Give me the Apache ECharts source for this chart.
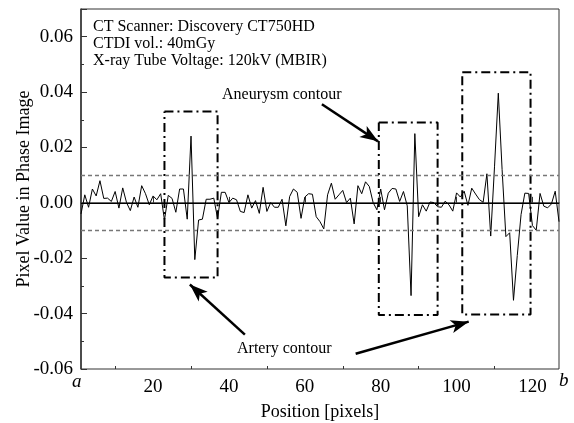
<!DOCTYPE html>
<html>
<head>
<meta charset="utf-8">
<script src="https://cdn.jsdelivr.net/npm/echarts@6/dist/echarts.min.js"></script>
<style>
html, body { margin: 0; padding: 0; background: #fff; }
#chart { width: 574px; height: 423px; }
</style>
</head>
<body>
<div id="chart"></div>
<script>
// pixel value profile, position 1..127
var pixelValues = [
  -0.004, 0.0029, -0.0016, 0.005, 0.0025, 0.008, 0.0016, 0.0017, 0.0005, 0.0041,
  -0.0019, 0.0054, 0.0001, -0.0028, 0.0021, -0.0016, 0.0062, 0.0033, -0.0007, 0.0025,
  0.0011, 0.0033, -0.0062, 0.0027, 0.0016, -0.0034, 0.005, 0.005, -0.0059, 0.0241,
  -0.0205, -0.0062, -0.0059, 0.0013, 0.0013, 0.0017, -0.0056, 0.0038, 0.0038, 0.0001,
  0.0017, 0.0011, -0.0031, -0.0035, 0.0029, -0.0019, 0.0008, -0.0038, 0.0056, -0.0031,
  0.0001, -0.0016, -0.0016, 0.0013, -0.0083, 0.0023, 0.005, 0.0038, -0.0056, 0.0021,
  0.0033, 0.0031, -0.005, -0.0068, -0.0094, 0.0029, 0.0071, 0.0013, 0.0029, 0.0045,
  0.0001, 0.0017, -0.0076, 0.0062, 0.0033, 0.0076, 0.0059, 0.0001, -0.0025, 0.005,
  -0.0025, 0.0035, 0.0052, 0.005, 0.0005, 0.0041, -0.0011, -0.0335, 0.025, -0.005,
  -0.0007, -0.003, 0.0003, 0.0001, -0.0014, -0.0016, 0.0006, -0.0007, -0.003, 0.0036,
  0.0021, 0.0042, -0.0009, 0.0053, 0.0032, 0.0012, 0.0002, 0.0105, -0.012, 0.013,
  0.0396, 0.012, -0.0122, -0.0108, -0.0352, -0.019, -0.0042, 0.0035, 0.0034, -0.0082,
  -0.0099, 0.0034, -0.0012, -0.0018, -0.0004, 0.0042, -0.0068
];
var xMajorTicks = [20, 40, 60, 80, 100, 120];
var xMinorTicks = [10, 30, 50, 70, 90, 110];
var threshold = 0.011;

// contour boxes: [xLeft, xRight, yBottom, yTop]
var arteryBox1 = [23, 37, -0.027, 0.033];
var aneurysmBox = [79.5, 95, -0.0405, 0.029];
var arteryBox2 = [101.5, 119.5, -0.0403, 0.0472];

// arrows: [from, to]
var aneurysmArrow = [[64.5, 0.0356], [79.3, 0.0222]];
var arteryArrow1 = [[44.2, -0.0476], [29.7, -0.0295]];
var arteryArrow2 = [[73.4, -0.0545], [103.2, -0.0429]];

var infoLines = ['CT Scanner: Discovery CT750HD', 'CTDI vol.: 40mGy', 'X-ray Tube Voltage: 120kV (MBIR)'];

function boxPath(b) {
    return [[b[0], b[3]], [b[1], b[3]], [b[1], b[2]], [b[0], b[2]], [b[0], b[3]]];
}
function boxSeries(b) {
    return {
        type: 'line',
        data: boxPath(b),
        symbol: 'none',
        silent: true,
        lineStyle: { color: '#000', width: 2, type: [9, 4, 2, 4] },
        z: 3
    };
}
function arrowItem(a) {
    return [{ coord: a[0] }, { coord: a[1] }];
}

var lineData = pixelValues.map(function (v, i) { return [i + 1, v]; });
var serif = '"Liberation Serif", "DejaVu Serif", serif';

var chart = echarts.init(document.getElementById('chart'));
chart.setOption({
    animation: false,
    grid: {
        left: 81, right: 15, top: 9, bottom: 54,
        containLabel: false,
        outerBoundsMode: 'none',
        show: true, borderColor: '#333', borderWidth: 1
    },
    xAxis: [{
        type: 'value',
        min: 1, max: 127,
        name: 'Position [pixels]',
        nameLocation: 'middle',
        nameGap: 34,
        nameMoveOverlap: false,
        nameTextStyle: { fontFamily: serif, fontSize: 18, color: '#000' },
        axisLine: { show: true, lineStyle: { color: '#333', width: 1.5 } },
        axisTick: { show: true, inside: true, length: 6, customValues: xMajorTicks, lineStyle: { color: '#333' } },
        axisLabel: { customValues: xMajorTicks, fontFamily: serif, fontSize: 19, color: '#000', margin: 9 },
        splitLine: { show: false }
    }, {
        type: 'value',
        position: 'bottom',
        min: 1, max: 127,
        axisLine: { show: false },
        axisTick: { show: true, inside: true, length: 3, customValues: xMinorTicks, lineStyle: { color: '#333' } },
        axisLabel: { show: false },
        splitLine: { show: false }
    }],
    yAxis: {
        type: 'value',
        min: -0.06, max: 0.07, interval: 0.02,
        name: 'Pixel Value in Phase Image',
        nameLocation: 'middle',
        nameGap: 48,
        nameMoveOverlap: false,
        nameTextStyle: { fontFamily: serif, fontSize: 18, color: '#000' },
        axisLine: { show: true, lineStyle: { color: '#333', width: 1.5 } },
        axisTick: { show: true, inside: true, length: 6, lineStyle: { color: '#333' } },
        minorTick: { show: true, splitNumber: 2, length: 3, lineStyle: { color: '#333' } },
        axisLabel: {
            fontFamily: serif, fontSize: 19, color: '#000', margin: 8,
            showMaxLabel: false,
            formatter: function (v) { return v.toFixed(2); }
        },
        splitLine: { show: false }
    },
    series: [
        {
            type: 'line',
            data: lineData,
            symbol: 'none',
            lineStyle: { color: '#000', width: 1 },
            z: 4,
            markLine: {
                silent: true,
                symbol: 'none',
                label: { show: false },
                data: [
                    { yAxis: 0, lineStyle: { color: '#000', width: 1.2, type: 'solid' } },
                    { yAxis: threshold, lineStyle: { color: '#777', width: 1.3, type: [4, 3] } },
                    { yAxis: -threshold, lineStyle: { color: '#777', width: 1.3, type: [4, 3] } }
                ]
            }
        },
        boxSeries(arteryBox1),
        boxSeries(aneurysmBox),
        boxSeries(arteryBox2),
        {
            type: 'line',
            data: [],
            markLine: {
                silent: true,
                symbol: ['none', 'arrow'],
                symbolSize: [10, 18],
                label: { show: false },
                lineStyle: { color: '#000', width: 2.5, type: 'solid' },
                data: [arrowItem(aneurysmArrow), arrowItem(arteryArrow1), arrowItem(arteryArrow2)]
            }
        }
    ],
    graphic: [
        { type: 'text', left: 93, top: 19, style: { text: infoLines[0], font: '16px ' + serif, fill: '#000' } },
        { type: 'text', left: 93, top: 36, style: { text: infoLines[1], font: '16px ' + serif, fill: '#000' } },
        { type: 'text', left: 93, top: 53, style: { text: infoLines[2], font: '16px ' + serif, fill: '#000' } },
        { type: 'text', left: 222, top: 87, style: { text: 'Aneurysm contour', font: '16px ' + serif, fill: '#000' } },
        { type: 'text', left: 237, top: 341, style: { text: 'Artery contour', font: '16px ' + serif, fill: '#000' } },
        { type: 'text', left: 72, top: 372, style: { text: 'a', font: 'italic 19px ' + serif, fill: '#000' } },
        { type: 'text', left: 559, top: 371, style: { text: 'b', font: 'italic 19px ' + serif, fill: '#000' } }
    ]
});
</script>
</body>
</html>
